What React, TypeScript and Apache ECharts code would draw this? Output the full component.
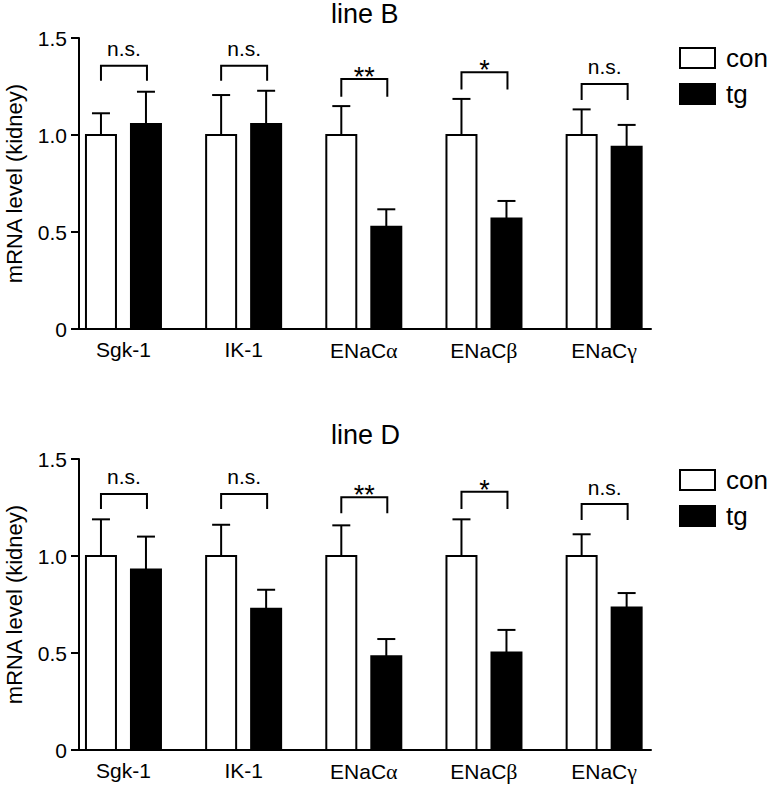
import React, { useEffect, useRef } from "react";
import * as echarts from "echarts";

const categories = ["Sgk-1", "IK-1", "ENaCα", "ENaCβ", "ENaCγ"];

// line B
const bCon = [1, 1, 1, 1, 1];
const bConErr = [1.112, 1.206, 1.149, 1.186, 1.132];
const bTg = [1.057, 1.057, 0.527, 0.569, 0.94];
const bTgErr = [1.223, 1.228, 0.617, 0.66, 1.052];
const bSigTop = [1.357, 1.357, 1.289, 1.323, 1.263];
const bSigBottom = [1.28, 1.28, 1.197, 1.235, 1.18];
const bSigLabel = ["n.s.", "n.s.", "**", "*", "n.s."];

// line D
const dCon = [1, 1, 1, 1, 1];
const dConErr = [1.189, 1.161, 1.158, 1.189, 1.112];
const dTg = [0.931, 0.728, 0.483, 0.502, 0.734];
const dTgErr = [1.1, 0.826, 0.572, 0.619, 0.809];
const dSigTop = [1.32, 1.32, 1.303, 1.331, 1.268];
const dSigBottom = [1.242, 1.242, 1.22, 1.242, 1.186];
const dSigLabel = ["n.s.", "n.s.", "**", "*", "n.s."];

const FONT = '"Liberation Sans", Arial, Helvetica, sans-serif';
const SERIF = '"Liberation Serif", "DejaVu Serif", serif';
const BAR_W = 30;
const HALF = 22.5; // px from group centre to each bar centre

function labelFmt(v: number) {
  const name = categories[Math.round(v)] ?? "";
  const last = name.slice(-1);
  if (/[α-ω]/.test(last)) return name.slice(0, -1) + "{g|" + last + "}";
  return name;
}

// bar + one-sided (upward) error bar, drawn through the axes' scales
function barSeries(name: string, gi: number, vals: number[], errs: number[], offset: number, fill: string) {
  return {
    type: "custom",
    name,
    xAxisIndex: gi,
    yAxisIndex: gi,
    silent: true,
    itemStyle: { color: fill, borderColor: "#000", borderWidth: 2 },
    data: vals.map((v, i) => [i, v, errs[i]]),
    encode: { x: 0, y: [1, 2] },
    renderItem: (params: any, api: any) => {
      const p0 = api.coord([api.value(0), 0]);
      const pv = api.coord([api.value(0), api.value(1)]);
      const pe = api.coord([api.value(0), api.value(2)]);
      const cx = p0[0] + offset;
      return {
        type: "group",
        children: [
          {
            type: "line",
            shape: { x1: cx, y1: pv[1], x2: cx, y2: pe[1] },
            style: { stroke: "#000", lineWidth: 2 },
          },
          {
            type: "line",
            shape: { x1: cx - 9, y1: pe[1], x2: cx + 9, y2: pe[1] },
            style: { stroke: "#000", lineWidth: 2 },
          },
          {
            type: "rect",
            shape: { x: cx - BAR_W / 2, y: pv[1], width: BAR_W, height: p0[1] - pv[1] },
            style: { fill, stroke: "#000", lineWidth: 2 },
          },
        ],
      };
    },
  };
}

function sigSeries(name: string, gi: number, tops: number[], bottoms: number[], labels: string[]) {
  return {
    type: "custom",
    name,
    xAxisIndex: gi,
    yAxisIndex: gi,
    z: 5,
    silent: true,
    data: tops.map((t, i) => [i, t, bottoms[i]]),
    renderItem: (params: any, api: any) => {
      const pt = api.coord([api.value(0), api.value(1)]);
      const pb = api.coord([api.value(0), api.value(2)]);
      const xl = pt[0] - HALF;
      const xr = pt[0] + HALF + 1;
      const lab = labels[params.dataIndex];
      const isStar = lab.indexOf("*") >= 0;
      return {
        type: "group",
        children: [
          {
            type: "polyline",
            shape: { points: [[xl, pb[1]], [xl, pt[1]], [xr, pt[1]], [xr, pb[1]]] },
            style: { stroke: "#000", lineWidth: 2, fill: null },
          },
          {
            type: "text",
            x: (xl + xr) / 2,
            y: isStar ? pt[1] - 2 : pt[1] - 17,
            style: {
              text: lab,
              fill: "#000",
              fontSize: isStar ? 27 : 21,
              fontFamily: FONT,
              align: "center",
              verticalAlign: "middle",
            },
          },
        ],
      };
    },
  };
}

function makeGrid(gi: number, con: number[], conErr: number[], tg: number[], tgErr: number[], st: number[], sb: number[], sl: string[]) {
  return [
    barSeries("con", gi, con, conErr, -HALF, "#fff"),
    barSeries("tg", gi, tg, tgErr, HALF, "#000"),
    sigSeries("sig" + gi, gi, st, sb, sl),
  ];
}

function xAxisCfg(gi: number) {
  return {
    type: "value",
    gridIndex: gi,
    min: -0.37,
    max: 4.39,
    splitLine: { show: false },
    axisTick: { show: false },
    axisLine: { onZero: true, lineStyle: { color: "#000", width: 2 } },
    axisLabel: {
      customValues: [0, 1, 2, 3, 4],
      formatter: labelFmt,
      color: "#000",
      fontSize: 21,
      fontFamily: FONT,
      margin: 10,
      rich: { g: { fontSize: 22, fontFamily: SERIF, color: "#000" } },
    },
  };
}

function yAxisCfg(gi: number) {
  return {
    type: "value",
    gridIndex: gi,
    min: 0,
    max: 1.5,
    interval: 0.5,
    splitLine: { show: false },
    axisLine: { show: true, onZero: false, lineStyle: { color: "#000", width: 2 } },
    axisTick: { show: true, length: 8, lineStyle: { color: "#000", width: 2 } },
    axisLabel: {
      color: "#000",
      fontSize: 21,
      fontFamily: FONT,
      margin: 12,
      formatter: (v: number) => (v === 0 ? "0" : v.toFixed(1)),
    },
    name: "mRNA level (kidney)",
    nameLocation: "middle",
    nameGap: 54,
    nameTextStyle: { color: "#000", fontSize: 22, fontFamily: FONT },
  };
}

function legendCfg(top: number) {
  return {
    orient: "vertical",
    left: 679,
    top,
    padding: 0,
    itemWidth: 35,
    itemHeight: 20,
    itemGap: 10,
    icon: "rect",
    selectedMode: false,
    textStyle: { color: "#000", fontSize: 26, fontFamily: FONT, padding: [0, 0, 0, 6] },
    data: [
      { name: "con", itemStyle: { color: "#fff", borderColor: "#000", borderWidth: 2 } },
      { name: "tg", itemStyle: { color: "#000", borderColor: "#000", borderWidth: 2 } },
    ],
  };
}

export default function App() {
  const ref = useRef<HTMLDivElement>(null);
  useEffect(() => {
    document.body.style.margin = "0";
    const chart = echarts.init(ref.current!, null, { renderer: "svg" });
    chart.setOption({
      animation: false,
      backgroundColor: "#fff",
      title: [
        { text: "line B", left: 331, top: 0, padding: 0, textStyle: { color: "#000", fontSize: 27, fontWeight: "normal", fontFamily: FONT } },
        { text: "line D", left: 331, top: 421, padding: 0, textStyle: { color: "#000", fontSize: 27, fontWeight: "normal", fontFamily: FONT } },
      ],
      legend: [legendCfg(45), legendCfg(467)],
      grid: [
        { left: 79, top: 38, width: 572, height: 291, containLabel: false, outerBoundsMode: "none" },
        { left: 79, top: 459, width: 572, height: 291, containLabel: false, outerBoundsMode: "none" },
      ],
      xAxis: [xAxisCfg(0), xAxisCfg(1)],
      yAxis: [yAxisCfg(0), yAxisCfg(1)],
      series: [
        ...makeGrid(0, bCon, bConErr, bTg, bTgErr, bSigTop, bSigBottom, bSigLabel),
        ...makeGrid(1, dCon, dConErr, dTg, dTgErr, dSigTop, dSigBottom, dSigLabel),
      ],
    });
    return () => chart.dispose();
  }, []);
  return <div ref={ref} style={{ width: 771, height: 789 }} />;
}
